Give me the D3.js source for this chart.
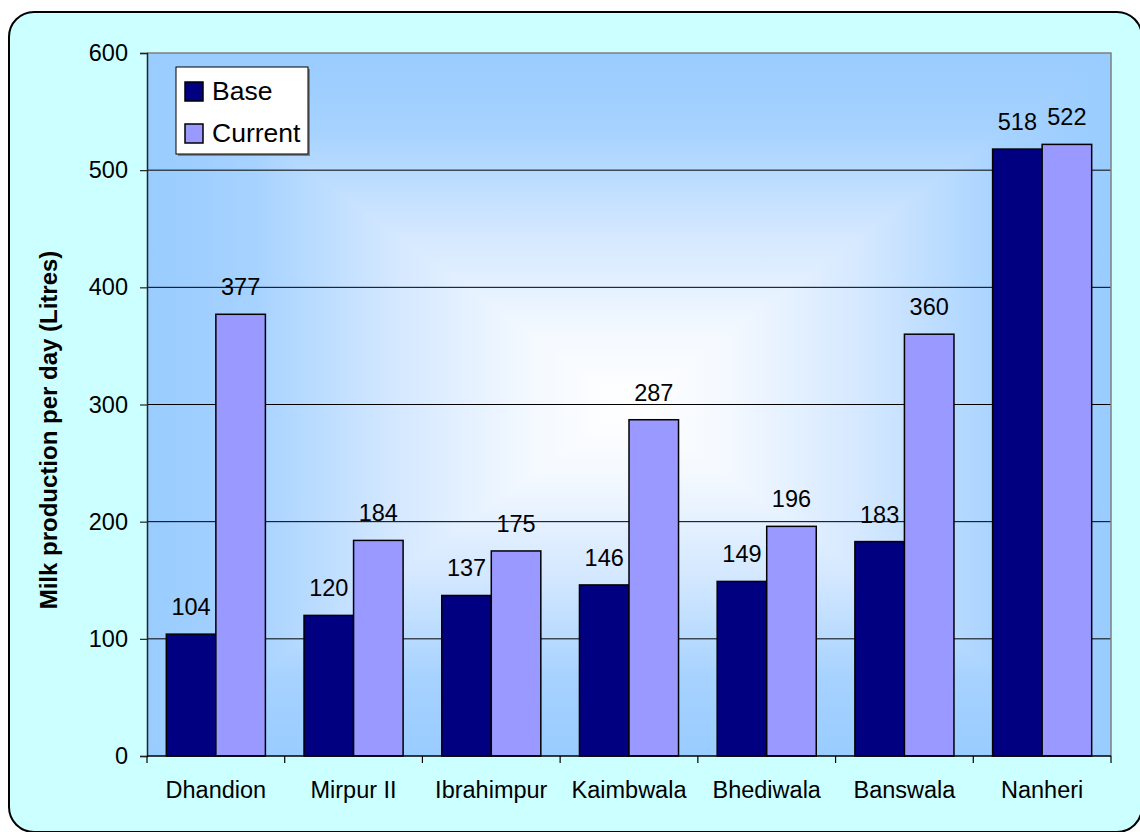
<!DOCTYPE html>
<html>
<head>
<meta charset="utf-8">
<script src="https://cdn.jsdelivr.net/npm/d3@7"></script>
<style>
  html, body { margin: 0; padding: 0; background: #ffffff; overflow: hidden; }
  svg { display: block; }
  text { font-family: Arial, "Liberation Sans", sans-serif; fill: #000; }
</style>
</head>
<body>
<svg id="chart" width="1140" height="832"></svg>
<script>
// Daily milk production per village, before and after
const categories = ["Dhandion", "Mirpur II", "Ibrahimpur", "Kaimbwala", "Bhediwala", "Banswala", "Nanheri"];
const seriesNames = ["Base", "Current"];
const baseValues = [104, 120, 137, 146, 149, 183, 518];
const currentValues = [377, 184, 175, 287, 196, 360, 522];
const yTicks = [0, 100, 200, 300, 400, 500, 600];
const yTitle = "Milk production per day (Litres)";

const colors = { Base: "#000080", Current: "#9999ff" };
const plotBlue = "#99ccff";

const svg = d3.select("#chart");
const plot = { left: 147, top: 53, right: 1111, bottom: 756 };

// Chart background with rounded frame (runs past the right and bottom edges)
svg.append("rect")
  .attr("x", 9).attr("y", 12).attr("width", 1133).attr("height", 820)
  .attr("rx", 25).attr("ry", 25)
  .attr("fill", "#ccffff").attr("stroke", "#000").attr("stroke-width", 2);

const x = d3.scaleBand().domain(categories).range([plot.left, plot.right]);
const xs = d3.scaleBand().domain(seriesNames).range([0, x.bandwidth()])
  .paddingInner(0).paddingOuter(0.39);
const y = d3.scaleLinear().domain([0, 600]).range([plot.bottom, plot.top]);

// Rectangular "from centre" gradient: white centre fading to blue edges
const defs = svg.append("defs");
const cx = (plot.left + plot.right) / 2, cy = (plot.top + plot.bottom) / 2;
const stops = [
  { o: 0, c: "#ffffff" },
  { o: 0.2, c: "#f4f9ff" },
  { o: 0.5, c: "#d2e7ff" },
  { o: 0.78, c: "#a6d2ff" },
  { o: 1, c: plotBlue }
];
function linGrad(id, x1, y1, x2, y2) {
  const g = defs.append("linearGradient").attr("id", id)
    .attr("gradientUnits", "userSpaceOnUse")
    .attr("x1", x1).attr("y1", y1).attr("x2", x2).attr("y2", y2);
  const list = [];
  stops.forEach(s => list.push({ o: 0.5 - s.o / 2, c: s.c }));
  stops.forEach(s => list.push({ o: 0.5 + s.o / 2, c: s.c }));
  list.sort((a, b) => a.o - b.o);
  list.forEach(s => g.append("stop").attr("offset", s.o).attr("stop-color", s.c));
}
linGrad("gv", cx, plot.top, cx, plot.bottom);
linGrad("gh", plot.left, cy, plot.right, cy);

const pg = svg.append("g");
pg.append("rect")
  .attr("x", plot.left).attr("y", plot.top)
  .attr("width", plot.right - plot.left).attr("height", plot.bottom - plot.top)
  .attr("fill", "url(#gv)");
pg.append("path")
  .attr("d", `M${plot.left},${plot.top}L${cx},${cy}L${plot.left},${plot.bottom}Z`)
  .attr("fill", "url(#gh)");
pg.append("path")
  .attr("d", `M${plot.right},${plot.top}L${cx},${cy}L${plot.right},${plot.bottom}Z`)
  .attr("fill", "url(#gh)");

// Gridlines
svg.append("g").selectAll("line")
  .data(yTicks.filter(t => t > 0 && t < 600))
  .join("line")
  .attr("x1", plot.left).attr("x2", plot.right)
  .attr("y1", d => y(d)).attr("y2", d => y(d))
  .attr("stroke", "#000").attr("stroke-width", 1);

// Plot frame (top & right)
svg.append("path")
  .attr("d", `M${plot.left},${plot.top}H${plot.right}V${plot.bottom}`)
  .attr("fill", "none").attr("stroke", "#808080").attr("stroke-width", 1.5);

// Bars
const rows = categories.map((c, i) => ({ cat: c, values: [
  { s: "Base", v: baseValues[i] }, { s: "Current", v: currentValues[i] }
] }));
const groups = svg.append("g").selectAll("g")
  .data(rows).join("g")
  .attr("transform", d => `translate(${x(d.cat)},0)`);
groups.selectAll("rect")
  .data(d => d.values).join("rect")
  .attr("x", d => xs(d.s)).attr("width", xs.bandwidth())
  .attr("y", d => y(d.v)).attr("height", d => y(0) - y(d.v))
  .attr("fill", d => colors[d.s])
  .attr("stroke", "#000").attr("stroke-width", 1.5);
groups.selectAll("text")
  .data(d => d.values).join("text")
  .attr("x", d => xs(d.s) + xs.bandwidth() / 2)
  .attr("y", d => y(d.v) - 19)
  .attr("text-anchor", "middle")
  .style("font-size", "23.5px")
  .text(d => d.v);

// Y axis
const yAxis = d3.axisLeft(y).tickValues(yTicks).tickSize(7).tickPadding(12);
const yg = svg.append("g").attr("transform", `translate(${plot.left},0)`).call(yAxis);
yg.select(".domain").attr("stroke", "#222").attr("stroke-width", 1.5);
yg.selectAll(".tick line").attr("stroke", "#222").attr("stroke-width", 1.2);
yg.selectAll(".tick text").style("font-size", "23.5px")
  .style("font-family", 'Arial, "Liberation Sans", sans-serif').attr("fill", "#000");

// X axis with ticks on category boundaries
const xg = svg.append("g").attr("transform", `translate(0,${plot.bottom})`);
xg.append("line").attr("x1", plot.left).attr("x2", plot.right)
  .attr("stroke", "#000").attr("stroke-width", 1.5);
const bounds = categories.map(c => x(c)).concat([plot.right]);
xg.selectAll("line.tk").data(bounds).join("line").attr("class", "tk")
  .attr("x1", d => d).attr("x2", d => d).attr("y1", 0).attr("y2", 7)
  .attr("stroke", "#000").attr("stroke-width", 1.2);
xg.selectAll("text").data(categories).join("text")
  .attr("x", d => x(d) + x.bandwidth() / 2).attr("y", 42)
  .attr("text-anchor", "middle").style("font-size", "23.5px")
  .text(d => d);

// Y axis title
svg.append("text")
  .attr("transform", `translate(57,430) rotate(-90)`)
  .attr("text-anchor", "middle")
  .style("font-size", "24px").style("font-weight", "bold")
  .text(yTitle);

// Legend
const lg = svg.append("g").attr("transform", "translate(176,67)");
lg.append("rect").attr("x", 2).attr("y", 2).attr("width", 132).attr("height", 87).attr("fill", "#808080");
lg.append("rect").attr("width", 132).attr("height", 87)
  .attr("fill", "#fff").attr("stroke", "#000").attr("stroke-width", 1);
const li = lg.selectAll("g.item").data(seriesNames).join("g").attr("class", "item")
  .attr("transform", (d, i) => `translate(0,${i * 42})`);
li.append("rect").attr("x", 9).attr("y", 15).attr("width", 18).attr("height", 19)
  .attr("fill", d => colors[d]).attr("stroke", "#000").attr("stroke-width", 1.5);
li.append("text").attr("x", 36).attr("y", 33)
  .style("font-size", "26.5px").text(d => d);
</script>
</body>
</html>
